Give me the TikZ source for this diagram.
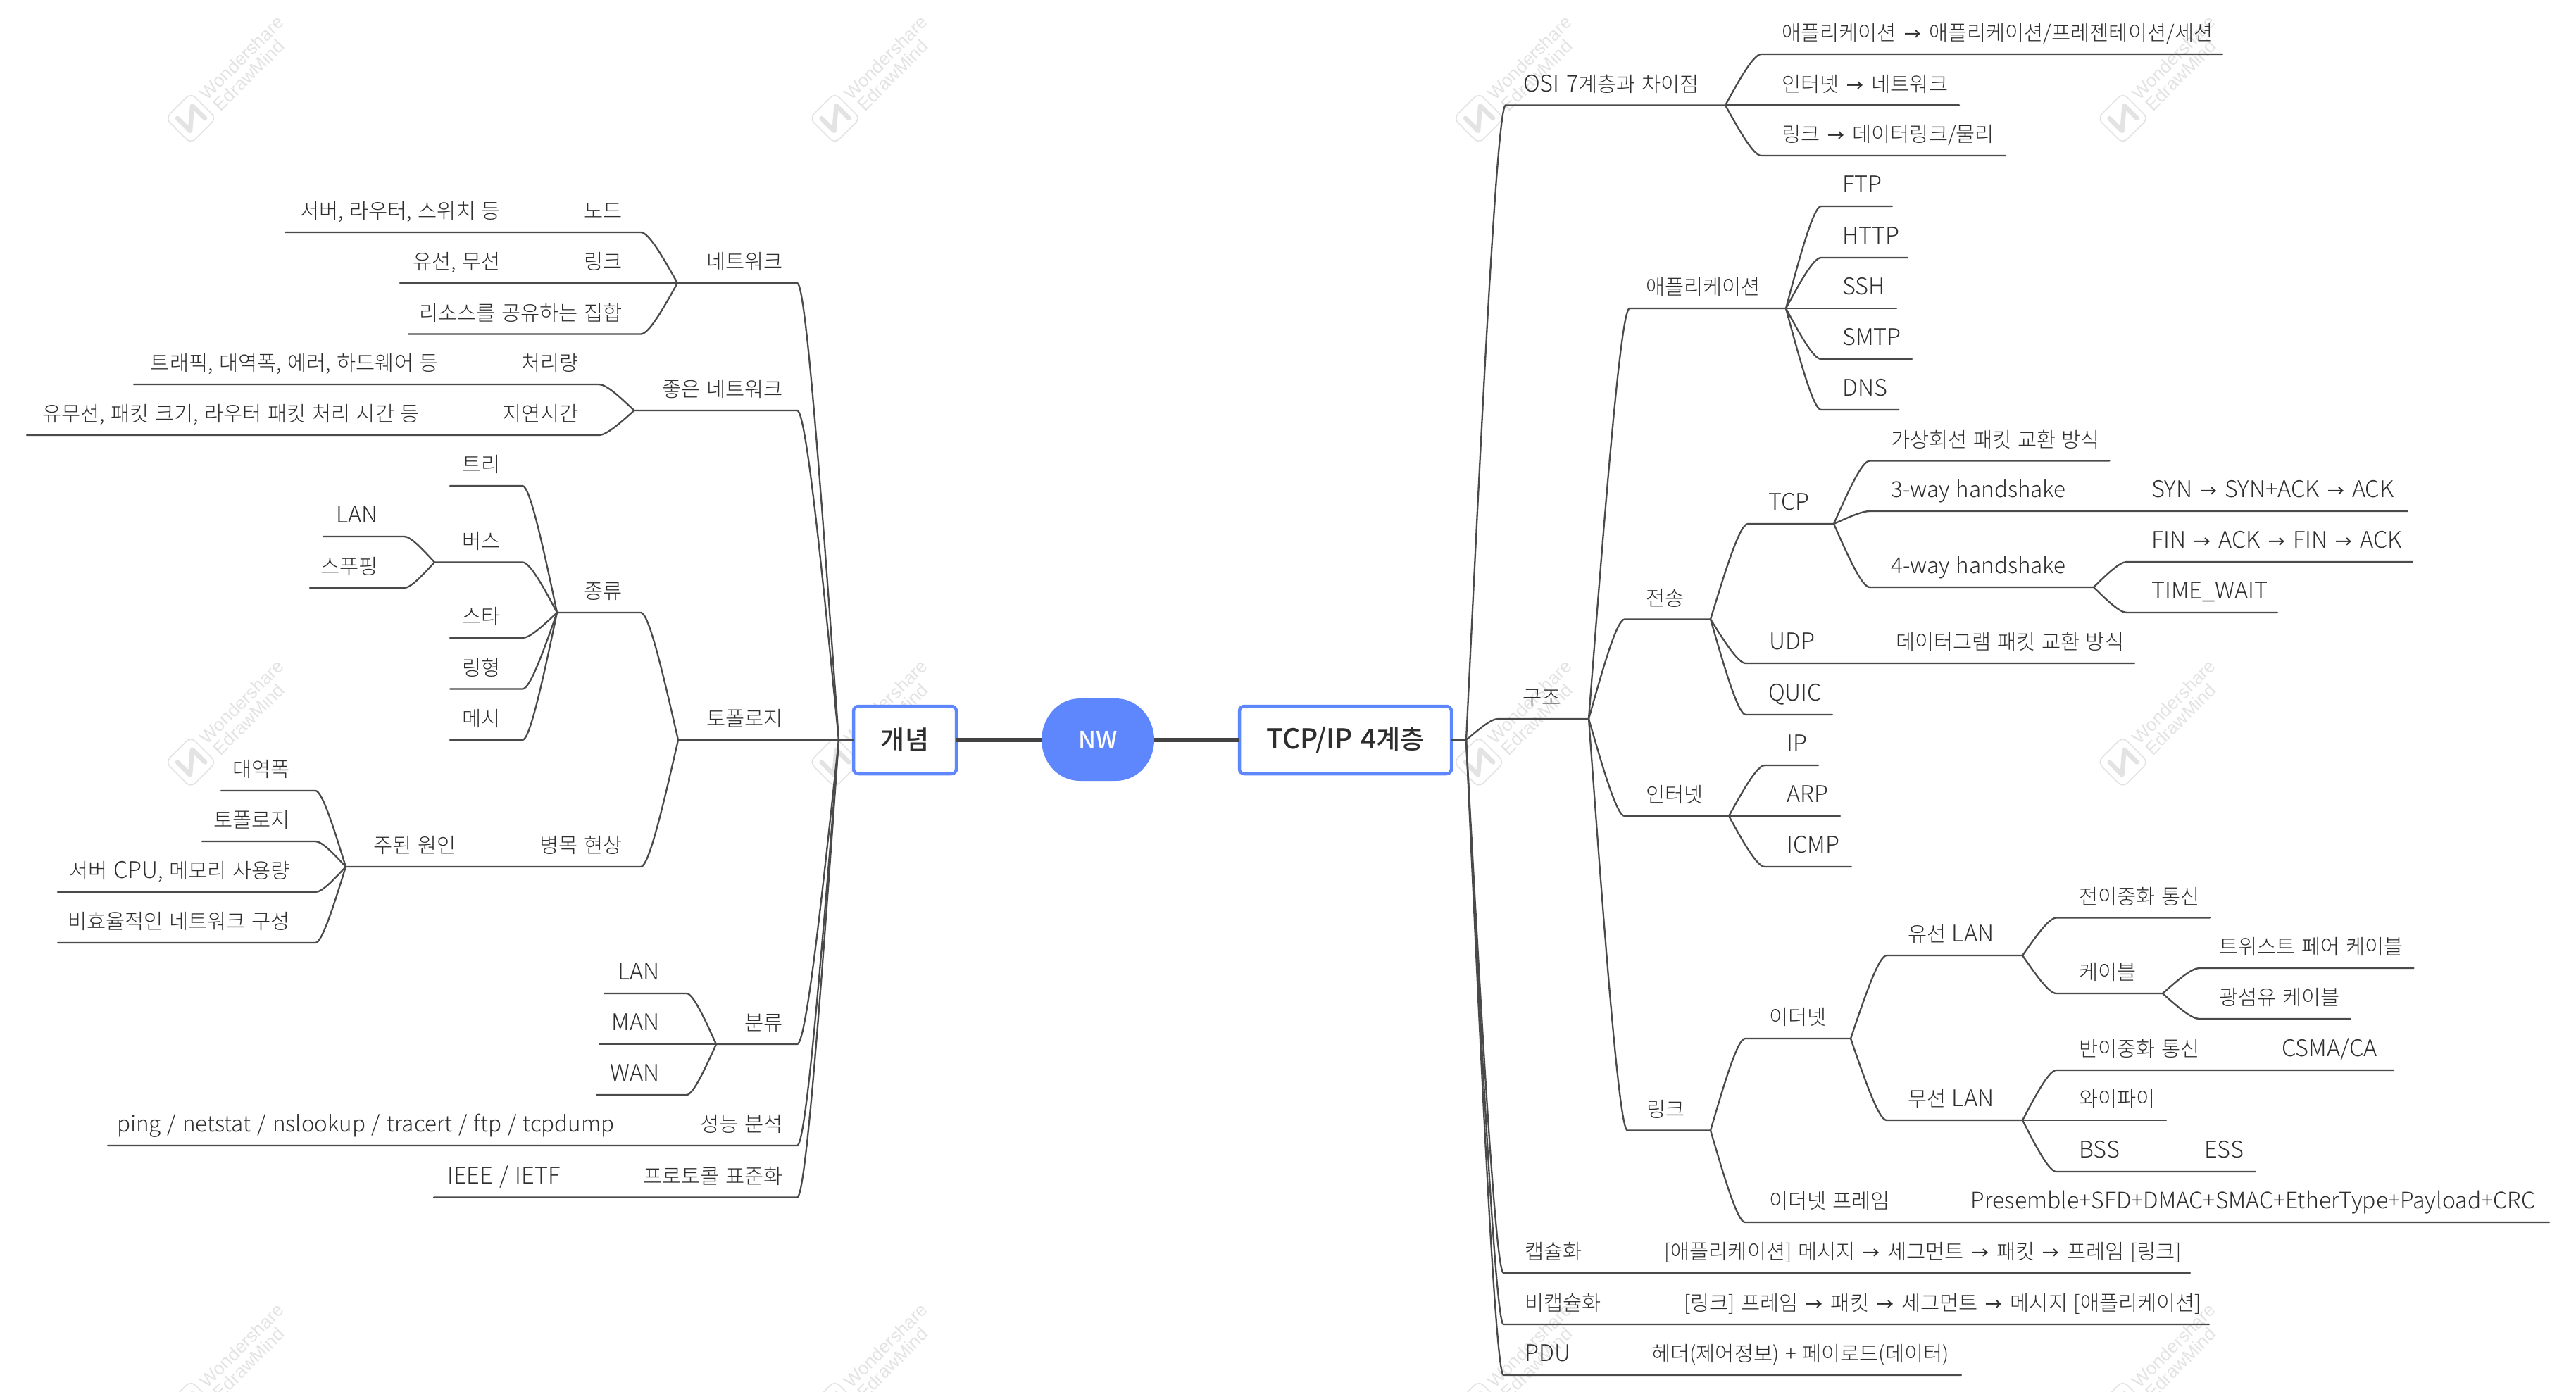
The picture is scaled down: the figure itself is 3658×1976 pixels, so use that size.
\documentclass[tikz,border=0pt]{standalone}
\usepackage{fontspec}
\usetikzlibrary{calc}
\setmainfont{Noto Sans CJK KR}[UprightFont=* Light,BoldFont=* Medium,WordSpace=1.3]
\newfontfamily\wmfont{Liberation Sans}
\definecolor{linec}{HTML}{4A4A4A}
\definecolor{textc}{HTML}{2E2E2E}
\definecolor{bluec}{HTML}{5F87FD}
\definecolor{wmc}{HTML}{E3E3E3}
\tikzset{
  conn/.style={draw=linec,line width=2.3pt,line cap=round},
  thickconn/.style={draw=linec!90!black,line width=6.5pt},
  elbow/.style={to path={let \p1=(\tikztostart),\p2=(\tikztotarget) in
     .. controls ({\x1+0.39*(#1)},{0.5*(\y1+\y2)}) and ({\x1+0.78*(#1)},\y2) .. ({\x1+(#1)},\y2) -- (\tikztotarget)}},
  tl/.style={anchor=base east,inner sep=0pt,text=textc,font=\fontsize{29.5}{34}\selectfont},
  tr/.style={anchor=base west,inner sep=0pt,text=textc,font=\fontsize{29.5}{34}\selectfont},
  topicbox/.style={draw=bluec,fill=white,line width=4.5pt,rounded corners=7pt,minimum height=96pt,inner sep=0pt,outer sep=0pt,text=textc,font=\bfseries\fontsize{37}{42}\selectfont},
  wmtext/.style={text=wmc,inner sep=0pt,rotate=45,font=\wmfont\fontsize{26}{28}\selectfont},
}
\newcommand\lat[1]{{\fontsize{32.6}{34}\selectfont #1}}
\newcommand\latl[1]{{\fontsize{32}{34}\selectfont #1}}
\newcommand\latw[1]{{\fontsize{31.4}{34}\selectfont #1}}
\newcommand\arw{\makebox[46pt]{\bfseries\fontsize{24}{26}\selectfont →}}
\newcommand\TL[4]{\node[tl] (#1) at ({#2+3},{#3-19.5}) {#4};}
\newcommand\TR[4]{\node[tr] (#1) at (#2,{#3-19.5}) {#4};}
\newcommand\PT[3]{\coordinate (#1) at (#2,#3);}
\newcommand\BR[3]{\draw[conn] (#1) to[elbow=#3] (#2);}
\newcommand\WM[2]{%
  \begin{scope}[shift={(#1,#2)}]
    \draw[wmc,line width=1.6pt,rounded corners=9pt] (-36,0)--(0,-36)--(36,0)--(0,36)--cycle;
    \draw[wmc,line width=6.5pt,line cap=round,line join=round] (-19,0)--(-1,18)--(2,-18)--(20,0);
    \node[wmtext] at (72,-86) {Wondershare};
    \node[wmtext] at (82,-61) {EdrawMind};
  \end{scope}}
\begin{document}
\begin{tikzpicture}[x=1pt,y=-1pt]
\useasboundingbox (0,0) rectangle (3658,1976);
\clip (0,0) rectangle (3658,1976);
% watermark
\foreach \wx in {271,1185.5,2100,3014.5}{\foreach \wy in {168,1082.5,1997}{\WM{\wx}{\wy}}}

% ===== centre
\node[topicbox,minimum width=146pt] (concept) at (1285,1051) {개념};
\node[topicbox,minimum width=301pt] (tcpip) at (1910.5,1051) {{\fontsize{39}{42}\selectfont TCP/IP 4}계층};
\fill[bluec] (1534,992) -- (1584,992) .. controls (1618,992) and (1639,1022) .. (1639,1051)
   .. controls (1639,1080) and (1618,1109) .. (1584,1109) -- (1534,1109)
   .. controls (1500,1109) and (1479,1080) .. (1479,1051)
   .. controls (1479,1022) and (1500,992) .. (1534,992) -- cycle;
\node[inner sep=0pt,minimum width=160pt,minimum height=117pt,outer sep=0pt,text=white,font=\bfseries\fontsize{34}{36}\selectfont] (nw) at (1559,1051) {NW};
\draw[thickconn] (concept.east) -- (nw.west);
\draw[thickconn] (nw.east) -- (tcpip.west);

% ===== left side
\PT{LF}{1191}{1051} \draw[conn] (concept.west) -- (LF);
\PT{fnet}{962}{402}
\TL{net}{1109}{402}{네트워크} \BR{LF}{fnet}{-59pt}
\TL{node}{881}{330}{노드} \TL{nodev}{708}{330}{서버, 라우터, 스위치 등} \PT{enode}{405}{330} \BR{fnet}{enode}{-52pt}
\TL{link}{881}{402}{링크} \TL{linkv}{708}{402}{유선, 무선} \PT{elink}{568}{402} \BR{fnet}{elink}{-52pt}
\TL{share}{881}{474.5}{리소스를 공유하는 집합} \PT{eshare}{580}{474.5} \BR{fnet}{eshare}{-52pt}

\PT{fgood}{900.5}{583}
\TL{good}{1109}{583}{좋은 네트워크} \BR{LF}{fgood}{-59pt}
\TL{thr}{819}{546}{처리량} \TL{thrv}{620}{546}{트래픽, 대역폭, 에러, 하드웨어 등} \PT{ethr}{190}{546} \BR{fgood}{ethr}{-50pt}
\TL{lat}{819}{618}{지연시간} \TL{latv}{593}{618}{유무선, 패킷 크기, 라우터 패킷 처리 시간 등} \PT{elat}{38}{618} \BR{fgood}{elat}{-50pt}

\PT{ftopo}{963}{1051}
\TL{topo}{1109}{1051}{토폴로지} \BR{LF}{ftopo}{-59pt}
\PT{fkind}{791}{870} \TL{kind}{881}{870}{종류} \BR{ftopo}{fkind}{-53pt}
\TL{tree}{708}{690}{트리} \PT{etree}{639}{690} \BR{fkind}{etree}{-49pt}
\PT{fbus}{617}{798.5} \TL{bus}{708}{798.5}{버스} \BR{fkind}{fbus}{-49pt}
\TL{blan}{534}{762}{\lat{LAN}} \PT{eblan}{459}{762} \BR{fbus}{eblan}{-43pt}
\TL{spoof}{534}{835}{스푸핑} \PT{espoof}{440}{835} \BR{fbus}{espoof}{-43pt}
\TL{star}{708}{906}{스타} \PT{estar}{639}{906} \BR{fkind}{estar}{-49pt}
\TL{ring}{708}{978.5}{링형} \PT{ering}{639}{978.5} \BR{fkind}{ering}{-49pt}
\TL{mesh}{708}{1051}{메시} \PT{emesh}{639}{1051} \BR{fkind}{emesh}{-49pt}
\PT{fbot}{491}{1231} \TL{bot}{881}{1231}{병목 현상} \TL{cause}{645}{1231}{주된 원인} \BR{ftopo}{fbot}{-53pt}
\TL{band}{409}{1123}{대역폭} \PT{eband}{314}{1123} \BR{fbot}{eband}{-43pt}
\TL{ctopo}{409}{1195}{토폴로지} \PT{ectopo}{287}{1195} \BR{fbot}{ectopo}{-43pt}
\TL{cpu}{409}{1267}{서버 \lat{CPU}, 메모리 사용량} \PT{ecpu}{82}{1267} \BR{fbot}{ecpu}{-43pt}
\TL{ineff}{409}{1339}{비효율적인 네트워크 구성} \PT{eineff}{82}{1339} \BR{fbot}{eineff}{-43pt}

\PT{fcls}{1017}{1483}
\TL{cls}{1109}{1483}{분류} \BR{LF}{fcls}{-59pt}
\TL{clan}{934}{1411}{\lat{LAN}} \PT{eclan}{858}{1411} \BR{fcls}{eclan}{-42pt}
\TL{man}{934}{1483}{\lat{MAN}} \PT{eman}{851}{1483} \BR{fcls}{eman}{-42pt}
\TL{wan}{934}{1555}{\lat{WAN}} \PT{ewan}{847}{1555} \BR{fcls}{ewan}{-42pt}
\TL{perf}{1109}{1627}{성능 분석} \TL{perfv}{870}{1627}{\latw{ping / netstat / nslookup / tracert / ftp / tcpdump}} \PT{eperf}{153}{1627} \BR{LF}{eperf}{-59pt}
\TL{std}{1109}{1700.5}{프로토콜 표준화} \TL{stdv}{793}{1700.5}{\lat{IEEE / IETF}} \PT{estd}{616}{1700.5} \BR{LF}{estd}{-59pt}

% ===== right side
\PT{RF}{2082}{1051} \draw[conn] (tcpip.east) -- (RF);
\PT{fosi}{2450}{149.5} \TR{osi}{2163}{149.5}{\lat{OSI 7}계층과 차이점} \BR{RF}{fosi}{56pt}
\TR{o1}{2530}{77}{애플리케이션\arw{}애플리케이션/프레젠테이션/세션} \PT{eo1}{3156}{77} \BR{fosi}{eo1}{51pt}
\TR{o2}{2530}{149.5}{인터넷\arw{}네트워크} \PT{eo2}{2782}{149.5} \BR{fosi}{eo2}{51pt}
\TR{o3}{2530}{221}{링크\arw{}데이터링크/물리} \PT{eo3}{2848}{221} \BR{fosi}{eo3}{51pt}

\PT{fstr}{2256}{1021} \TR{str}{2162}{1021}{구조} \BR{RF}{fstr}{45pt}
\PT{fapp}{2536}{438} \TR{app}{2337}{438}{애플리케이션} \BR{fstr}{fapp}{58pt}
\TR{ftp}{2616}{293}{\lat{FTP}} \PT{eftp}{2687}{293} \BR{fapp}{eftp}{50pt}
\TR{http}{2616}{366}{\lat{HTTP}} \PT{ehttp}{2709}{366} \BR{fapp}{ehttp}{50pt}
\TR{ssh}{2616}{438}{\lat{SSH}} \PT{essh}{2693}{438} \BR{fapp}{essh}{50pt}
\TR{smtp}{2616}{510}{\lat{SMTP}} \PT{esmtp}{2715}{510} \BR{fapp}{esmtp}{50pt}
\TR{dns}{2616}{582}{\lat{DNS}} \PT{edns}{2696.5}{582} \BR{fapp}{edns}{50pt}

\PT{ftrans}{2429}{879.5} \TR{trans}{2337}{879.5}{전송} \BR{fstr}{ftrans}{51pt}
\PT{ftcp}{2604}{744} \TR{tcp}{2511}{744}{\lat{TCP}} \BR{ftrans}{ftcp}{53pt}
\TR{vc}{2685}{654.5}{가상회선 패킷 교환 방식} \PT{evc}{2995.5}{654.5} \BR{ftcp}{evc}{51pt}
\TR{hs3}{2685}{726}{\latw{3-way handshake}} \TR{hs3v}{3055}{726}{\lat{SYN\arw{}SYN+ACK\arw{}ACK}} \PT{ehs3}{3419}{726} \BR{ftcp}{ehs3}{51pt}
\PT{fhs4}{2973}{834} \TR{hs4}{2685}{834}{\latw{4-way handshake}} \BR{ftcp}{fhs4}{51pt}
\TR{fin}{3055}{798}{\lat{FIN\arw{}ACK\arw{}FIN\arw{}ACK}} \PT{efin}{3426}{798} \BR{fhs4}{efin}{47pt}
\TR{tw}{3055}{870}{\lat{TIME\_WAIT}} \PT{etw}{3234}{870} \BR{fhs4}{etw}{47pt}
\TR{udp}{2512}{942}{\lat{UDP}} \TR{udpv}{2692}{942}{데이터그램 패킷 교환 방식} \PT{eudp}{3031}{942} \BR{ftrans}{eudp}{50pt}
\TR{quic}{2511}{1015}{\lat{QUIC}} \PT{equic}{2602}{1015} \BR{ftrans}{equic}{50pt}

\PT{finet}{2455}{1159} \TR{inet}{2337}{1159}{인터넷} \BR{fstr}{finet}{51pt}
\TR{ip}{2537}{1087}{\lat{IP}} \PT{eip}{2582}{1087} \BR{finet}{eip}{51pt}
\TR{arp}{2537}{1159}{\lat{ARP}} \PT{earp}{2613}{1159} \BR{finet}{earp}{51pt}
\TR{icmp}{2537}{1231}{\lat{ICMP}} \PT{eicmp}{2629}{1231} \BR{finet}{eicmp}{51pt}

\PT{fllink}{2429}{1605.5} \TR{llink}{2338}{1605.5}{링크} \BR{fstr}{fllink}{55pt}
\PT{feth}{2628}{1475} \TR{eth}{2512}{1475}{이더넷} \BR{fllink}{feth}{49pt}
\PT{fwired}{2872}{1357} \TR{wired}{2709}{1357}{유선 \lat{LAN}} \BR{feth}{fwired}{51pt}
\TR{fdx}{2952}{1303.5}{전이중화 통신} \PT{efdx}{3138}{1303.5} \BR{fwired}{efdx}{48pt}
\PT{fcable}{3071}{1411} \TR{cable}{2952}{1411}{케이블} \BR{fwired}{fcable}{48pt}
\TR{tp}{3151}{1375}{트위스트 페어 케이블} \PT{etp}{3427.5}{1375} \BR{fcable}{etp}{52pt}
\TR{fiber}{3151}{1447}{광섬유 케이블} \PT{efiber}{3338}{1447} \BR{fcable}{efiber}{52pt}
\PT{fwless}{2872}{1591} \TR{wless}{2709}{1591}{무선 \lat{LAN}} \BR{feth}{fwless}{51pt}
\TR{hdx}{2952}{1520}{반이중화 통신} \TR{csma}{3240}{1520}{\lat{CSMA/CA}} \PT{ehdx}{3399}{1520} \BR{fwless}{ehdx}{48pt}
\TR{wifi}{2952}{1591}{와이파이} \PT{ewifi}{3076}{1591} \BR{fwless}{ewifi}{48pt}
\TR{bss}{2952}{1664}{\lat{BSS}} \TR{ess}{3130}{1664}{\lat{ESS}} \PT{ebss}{3203}{1664} \BR{fwless}{ebss}{48pt}
\TR{frame}{2512}{1736}{이더넷 프레임} \TR{framev}{2798.5}{1736}{\latl{Presemble+SFD+DMAC+SMAC+EtherType+Payload+CRC}} \PT{eframe}{3620}{1736} \BR{fllink}{eframe}{49pt}

\TR{enc}{2165}{1808}{캡슐화} \TR{encv}{2363}{1808}{[애플리케이션] 메시지\arw{}세그먼트\arw{}패킷\arw{}프레임 [링크]} \PT{eenc}{3110}{1808} \BR{RF}{eenc}{53pt}
\TR{dec}{2165}{1881}{비캡슐화} \TR{decv}{2391}{1881}{[링크] 프레임\arw{}패킷\arw{}세그먼트\arw{}메시지 [애플리케이션]} \PT{edec}{3137}{1881} \BR{RF}{edec}{53pt}
\TR{pdu}{2165}{1953}{\lat{PDU}} \TR{pduv}{2345}{1953}{헤더(제어정보) + 페이로드(데이터)} \PT{epdu}{2785}{1953} \BR{RF}{epdu}{53pt}
\end{tikzpicture}
\end{document}
